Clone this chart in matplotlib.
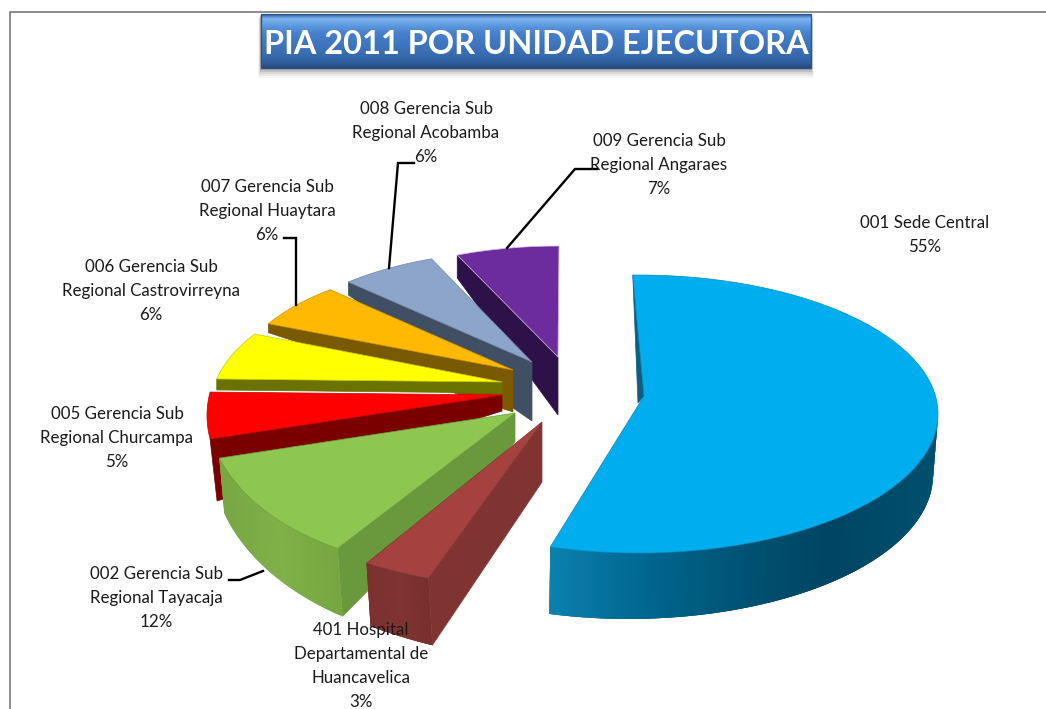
import numpy as np
import matplotlib
matplotlib.use("Agg")
import matplotlib.pyplot as plt
from matplotlib.colors import to_rgb
from matplotlib.patches import Polygon, Rectangle

# ---------- data ----------
TITLE = "PIA 2011 POR UNIDAD EJECUTORA"
names = ["001 Sede Central", "401 Hospital\nDepartamental de\nHuancavelica",
         "002 Gerencia Sub\nRegional Tayacaja", "005 Gerencia Sub\nRegional Churcampa",
         "006 Gerencia Sub\nRegional Castrovirreyna", "007 Gerencia Sub\nRegional Huaytara",
         "008 Gerencia Sub\nRegional Acobamba", "009 Gerencia Sub\nRegional Angaraes"]
values = [55, 3, 12, 5, 6, 6, 6, 7]

# ---------- style ----------
top_colors = ["#00aeef", "#a5423f", "#8dc750", "#ff0000", "#ffff00", "#ffb900", "#8ea5cb", "#6d2c9e"]
face_colors = ["#0b5f80", "#7f3431", "#6a983c", "#7a0000", "#6b7300", "#7a5a00", "#404f63", "#2e1149"]
# cx, cy, a, b, rot, apex x, apex y, rim depth, apex depth, rim dx
geom = [
    (638, 414, 300, 139, -1, 644, 396, 67, 7, -1),
    (539, 388, 358, 200, 0, 542, 422, 67, 60, 4),
    (459, 409, 252, 159, 0, 515, 413, 68, 29, 5),
    (457, 415.5, 250, 150, 9, 502, 395, 62, 16, 7),
    (473, 406, 262, 130, 12, 502, 382, 11, 11, 0),
    (465, 394, 236, 127, 12, 513, 370, 9, 42, 0),
    (521, 371.5, 259, 120, 5, 532, 362, 13, 59, 0),
    (559, 341, 239, 95, 0, 558, 357, 23, 58, 0),
]
draw_order = [7, 6, 5, 4, 3, 2, 1, 0]
label_pos = [(925, 235), (361, 666), (156, 598), (117, 438), (151, 291), (267, 211), (426, 133), (659, 165)]
leaders = {
    2: [(229, 580), (240, 580), (263, 571)],
    5: [(284, 238), (296, 238), (296, 305)],
    6: [(414, 163), (398, 163), (389, 268)],
    7: [(597, 169), (575, 169), (507, 248)],
}
rim_stops = {
    0: ([549, 650, 760, 830, 935], ["#0c82b0", "#00668f", "#00506f", "#004563", "#004f6e"]),
    1: ([366, 400, 432], ["#7c312f", "#7f3431", "#762e2c"]),
    2: ([225, 280, 343], ["#78a843", "#80b048", "#76a53f"]),
}
rim_side_from = {0: 90.0}

plt.rcParams["font.family"] = ["Lato", "DejaVu Sans"]
fig = plt.figure(figsize=(10.46, 7.09), dpi=100)
ax = fig.add_axes([0, 0, 1, 1])
ax.set_xlim(0, 1046)
ax.set_ylim(709, 0)
ax.axis("off")

# chart frame
ax.plot([9.5, 9.5, 1046], [709, 11.5, 11.5], color="#8c8c8c", lw=1.4, zorder=1)

# title box
for i, alpha in enumerate([0.05, 0.08, 0.12, 0.18, 0.25]):
    grow = 5 - i
    ax.add_patch(Rectangle((261 - grow * 0.6, 14 + grow), 550 + grow * 1.2, 54 + grow,
                           fc="#5a5a5a", ec="none", alpha=alpha, zorder=2))
ramp = np.array([to_rgb(c) for c in ["#2f5f9f", "#7fb4f2", "#5f9be0", "#4780cc", "#3f76bf", "#386cb0", "#2f5d9a", "#27497c"]])
pos = np.array([0, .08, .2, .35, .55, .75, .92, 1])
yy = np.linspace(0, 1, 64)
grad = np.stack([np.interp(yy, pos, ramp[:, k]) for k in range(3)], axis=1)[:, None, :]
ax.imshow(grad, extent=(261, 811, 68, 14), aspect="auto", zorder=3, interpolation="bilinear")
ax.set_xlim(0, 1046)
ax.set_ylim(709, 0)
ax.add_patch(Rectangle((261, 14), 550, 54, fc="none", ec="#2b5288", lw=0.9, zorder=3.5))
ax.text(536, 42, TITLE, color="white", fontsize=23.4, fontweight="bold", ha="center", va="center_baseline", zorder=4)

# slices
starts = np.concatenate([[0], np.cumsum(values)[:-1]])
z = 10
for i in draw_order:
    cx, cy, a, b, rot, ax_, ay_, dr, da, dx = geom[i]
    t0 = 360 * starts[i] / sum(values) + rot
    t1 = 360 * (starts[i] + values[i]) / sum(values) + rot
    t = np.radians(np.linspace(t0, t1, 80))
    rx = cx + a * np.sin(t)
    ry = cy - b * np.cos(t)
    apex = (ax_, ay_)
    # radial face
    if i == 0:
        face = [(rx[0], ry[0]), apex, (ax_ - 6, ay_ + da)]
    else:
        face = [(rx[0], ry[0]), apex, (ax_, ay_ + da), (rx[0] + dx, ry[0] + dr)]
    ax.add_patch(Polygon(face, fc=face_colors[i], ec=face_colors[i], lw=.5, zorder=z))
    z += 1
    # outer rim side, shaded along x
    if i in rim_stops:
        xs, cs = rim_stops[i]
        cs = np.array([to_rgb(c) for c in cs])
        tf = rim_side_from.get(i, t0)
        tt = np.radians(np.linspace(tf, t1, 160))
        px = cx + a * np.sin(tt)
        py = cy - b * np.cos(tt)
        frac = (np.degrees(tt) - tf) / max(t1 - tf, 1e-6)
        if i == 0:
            d = 60 + 7 * frac
            ddx = -5 + 4 * frac
        elif i == 2:
            d = 68 - 13 * frac
            ddx = np.full_like(frac, dx)
        else:
            d = np.full_like(frac, dr) - 4 * frac
            ddx = np.full_like(frac, dx)
        for k in range(len(tt) - 1):
            m = min(k + 3, len(tt) - 1)  # overlap neighbours so no seams appear
            col = [np.interp(px[k], xs, cs[:, c]) for c in range(3)]
            ax.add_patch(Polygon([(px[k], py[k]), (px[m], py[m]),
                                  (px[m] + ddx[m], py[m] + d[m]),
                                  (px[k] + ddx[k], py[k] + d[k])],
                                 fc=col, ec="none", zorder=z))
        z += 1
    # top face
    top = [apex] + list(zip(rx, ry))
    edge = "#d9b8e8" if i == 7 else tuple(0.8 * np.array(to_rgb(top_colors[i])))
    ax.add_patch(Polygon(top, fc=top_colors[i], ec=edge, lw=.5, zorder=z))
    z += 1

# leaders
for pts in leaders.values():
    ax.plot(*zip(*pts), color="black", lw=1.7, zorder=60, solid_joinstyle="miter")

# labels
for i, (lx, ly) in enumerate(label_pos):
    ax.text(lx, ly, f"{names[i]}\n{values[i]}%", ha="center", va="center", fontsize=12.2,
            linespacing=1.64, color="#1a1a1a", zorder=70)

fig.savefig("out.png", dpi=100)
